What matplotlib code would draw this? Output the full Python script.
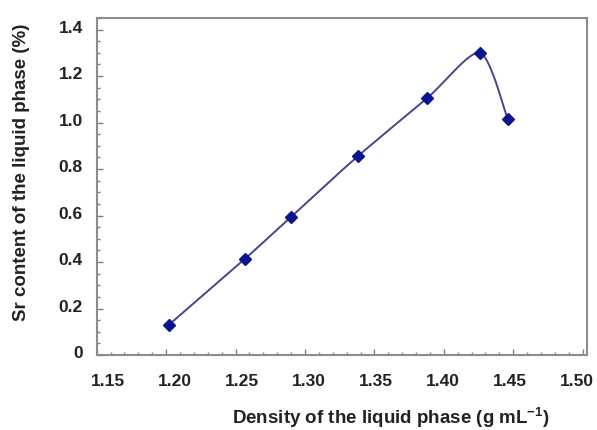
import numpy as np
import matplotlib
matplotlib.use("Agg")
from matplotlib import pyplot as plt
from matplotlib import transforms
from matplotlib.ticker import MultipleLocator, FuncFormatter

# data
density = [1.202, 1.257, 1.290, 1.338, 1.388, 1.426, 1.446]
sr_content = [0.13, 0.415, 0.595, 0.855, 1.105, 1.30, 1.015]

x_ticks = [1.15, 1.20, 1.25, 1.30, 1.35, 1.40, 1.45, 1.50]
y_ticks = [0, 0.2, 0.4, 0.6, 0.8, 1.0, 1.2, 1.4]

plt.rcParams["font.family"] = ["Liberation Sans", "DejaVu Sans"]
plt.rcParams["font.weight"] = "bold"
plt.rcParams["mathtext.fontset"] = "custom"
plt.rcParams["mathtext.rm"] = "Liberation Sans:bold"
plt.rcParams["mathtext.bf"] = "Liberation Sans:bold"
plt.rcParams["mathtext.default"] = "bf"


def smooth_line(xs, ys, tension=0.13, n=40):
    """Bezier smoothing through the points, like a spreadsheet smoothed line"""
    pts = np.column_stack([xs, ys])
    padded = np.vstack([pts[0], pts, pts[-1]])
    out = []
    for i in range(len(pts) - 1):
        p0, p1 = padded[i + 1], padded[i + 2]
        c1 = p0 + (padded[i + 2] - padded[i]) * tension
        c2 = p1 - (padded[i + 3] - padded[i + 1]) * tension
        t = np.linspace(0, 1, n)[:, None]
        seg = ((1 - t) ** 3) * p0 + 3 * ((1 - t) ** 2) * t * c1 + 3 * (1 - t) * t ** 2 * c2 + t ** 3 * p1
        out.append(seg if i == 0 else seg[1:])
    out = np.vstack(out)
    return out[:, 0], out[:, 1]


fig = plt.figure(figsize=(5.97, 4.30), dpi=100)
ax = fig.add_axes([0.162, 0.1744, 0.821, 0.7838])

sx, sy = smooth_line(density, sr_content)
ax.plot(sx, sy, color="#46468c", linewidth=1.4, zorder=2)
ax.plot(density, sr_content, linestyle="none", marker="D", markersize=6,
        color="#0a1490", zorder=3)

ax.set_xlim(1.15, 1.503)
ax.set_ylim(0, 1.45)
ax.set_xticks(x_ticks)
ax.set_yticks(y_ticks)
ax.xaxis.set_minor_locator(MultipleLocator(0.01))
ax.yaxis.set_minor_locator(MultipleLocator(0.05))
ax.xaxis.set_major_formatter(FuncFormatter(lambda v, p: f"{v:.2f}"))
ax.yaxis.set_major_formatter(FuncFormatter(lambda v, p: "0" if abs(v) < 1e-9 else f"{v:.1f}"))

ax.tick_params(which="both", direction="in", color="#808080", labelsize=12.5,
               labelcolor="#222222")
ax.tick_params(which="major", length=4, width=1)
ax.tick_params(which="minor", length=2.5, width=1)
ax.tick_params(axis="x", which="major", pad=14)
ax.tick_params(axis="y", which="major", pad=10)

# the labels in the original sit a little off their ticks
for k, lab in enumerate(ax.get_xticklabels()):
    shift = transforms.ScaledTranslation((11 - 2.4 * k) / 100, 0, fig.dpi_scale_trans)
    lab.set_transform(lab.get_transform() + shift)
for lab in ax.get_yticklabels():
    shift = transforms.ScaledTranslation(0, 3 / 100, fig.dpi_scale_trans)
    lab.set_transform(lab.get_transform() + shift)

for side in ["left", "bottom", "top", "right"]:
    ax.spines[side].set_color("#8c8c8c")
    ax.spines[side].set_linewidth(1.5)

fig.text(22 / 597, 1 - 172 / 430, "Sr content of the liquid phase (%)",
         rotation=90, ha="center", va="center", fontsize=13.5, fontweight="bold",
         color="#222222")
fig.text(391 / 597, 1 - 418 / 430, r"Density of the liquid phase (g mL$^{-1}$)",
         ha="center", va="center", fontsize=13.5, fontweight="bold", color="#222222")

fig.savefig("out.png", dpi=100)
